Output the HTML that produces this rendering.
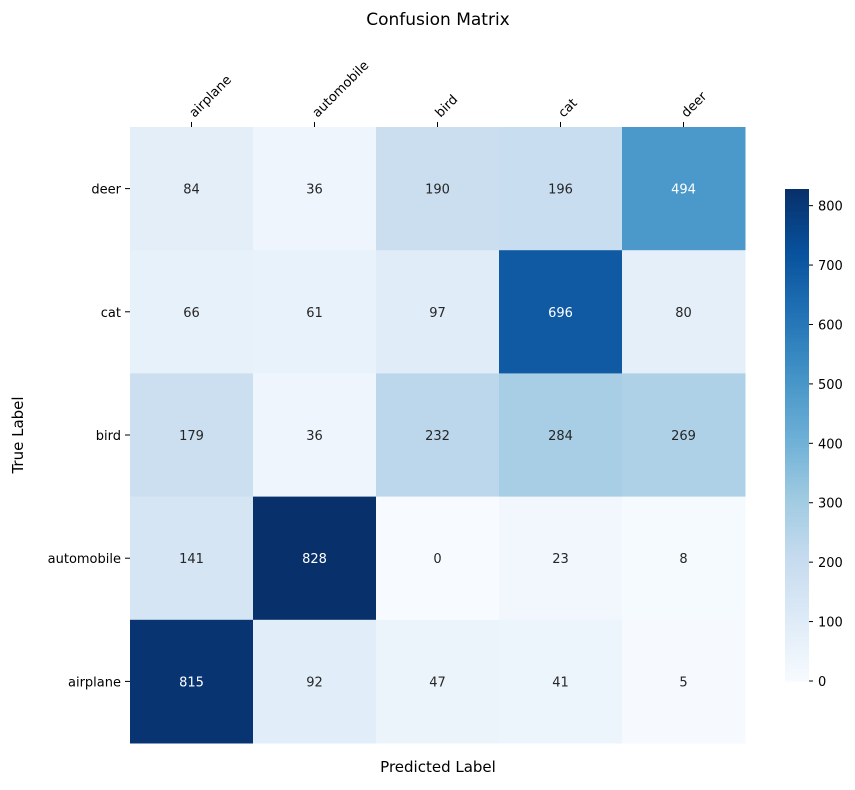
<!DOCTYPE html>
<html><head><meta charset="utf-8"><style>
body{margin:0;background:#fff;font-family:"Liberation Sans","DejaVu Sans",sans-serif}
</style></head><body>
<svg id="chart" width="855" height="785" xmlns="http://www.w3.org/2000/svg" font-family="'DejaVu Sans','Liberation Sans',sans-serif">
<defs><linearGradient id="cbg" x1="0" y1="1" x2="0" y2="0"></linearGradient></defs>
<text x="438" y="25" font-size="17" text-anchor="middle">Confusion Matrix</text>
<text x="438" y="772" font-size="15" text-anchor="middle">Predicted Label</text>
<text transform="translate(23,435) rotate(-90)" font-size="15" text-anchor="middle">True Label</text>
<g id="cells"></g><g id="axes"></g><g id="cbar"></g>
</svg>
<script>
const predLabels=["airplane","automobile","bird","cat","deer"];
const trueLabels=["deer","cat","bird","automobile","airplane"];
const row0=[84,36,190,196,494];
const row1=[66,61,97,696,80];
const row2=[179,36,232,284,269];
const row3=[141,828,0,23,8];
const row4=[815,92,47,41,5];
const matrix=[row0,row1,row2,row3,row4];
const cbTicks=[0,100,200,300,400,500,600,700,800];
const NS="http://www.w3.org/2000/svg";
const stops=["#f7fbff","#deebf7","#c6dbef","#9ecae1","#6baed6","#4292c6","#2171b5","#08519c","#08306b"];
function hex(h){return [1,3,5].map(i=>parseInt(h.substr(i,2),16));}
function cmap(t){t=Math.max(0,Math.min(1,t));const p=t*8,i=Math.min(7,Math.floor(p)),f=p-i;const a=hex(stops[i]),b=hex(stops[i+1]);return "rgb("+a.map((v,k)=>Math.round(v+(b[k]-v)*f)).join(",")+")";}
const vmin=0,vmax=Math.max(...matrix.flat());
const X0=130,X1=745,Y0=127,Y1=743;
const cw=(X1-X0)/predLabels.length,ch=(Y1-Y0)/trueLabels.length;
const xs=j=>X0+j*cw, ys=i=>Y0+i*ch;
function mk(tag,attrs,parent){const e=document.createElementNS(NS,tag);for(const k in attrs)e.setAttribute(k,attrs[k]);parent.appendChild(e);return e;}
const cells=document.getElementById('cells'),axes=document.getElementById('axes'),cb=document.getElementById('cbar');
matrix.forEach((row,i)=>row.forEach((v,j)=>{
 const t=(v-vmin)/(vmax-vmin);
 const r=mk('rect',{x:xs(j),y:ys(i),width:cw+0.5,height:ch+0.5,fill:cmap(t)},cells);
 
 
 const tx=mk('text',{x:xs(j)+cw/2,y:ys(i)+ch/2+5,'font-size':13,'text-anchor':'middle',fill:t>0.5?'#fff':'#262626'},cells);
 tx.textContent=v;
 
 
}));
predLabels.forEach((l,j)=>{
 const cx=xs(j)+cw/2;
 mk('line',{x1:cx,y1:Y0,x2:cx,y2:Y0-5,stroke:'#000'},axes);
 const t=mk('text',{transform:`translate(${cx+3},${Y0-9}) rotate(-45)`,'font-size':13},axes);
 t.textContent=l;
 
 
});
trueLabels.forEach((l,i)=>{
 const cy=ys(i)+ch/2;
 mk('line',{x1:X0,y1:cy,x2:X0-5,y2:cy,stroke:'#000'},axes);
 const t=mk('text',{x:X0-9,y:cy+5,'font-size':13,'text-anchor':'end'},axes);
 t.textContent=l;
 
 
});
// colorbar
const CB0=681,CB1=189,CBX=785,CBW=24;
const cy=v=>CB0-(v-vmin)/(vmax-vmin)*(CB0-CB1);
for(let k=0;k<200;k++){const v0=vmin+(vmax-vmin)*k/200,v1=vmin+(vmax-vmin)*(k+1)/200;
 mk('rect',{x:CBX,y:cy(v1),width:CBW,height:cy(v0)-cy(v1)+0.6,fill:cmap((v0+v1)/2/vmax)},cb);}
const cbr=mk('rect',{x:CBX,y:CB1,width:CBW,height:CB0-CB1,fill:'none'},cb);


cbTicks.forEach(v=>{
 mk('line',{x1:CBX+CBW,y1:cy(v),x2:CBX+CBW+4,y2:cy(v),stroke:'#000'},cb);
 const t=mk('text',{x:CBX+CBW+9,y:cy(v)+5,'font-size':13},cb);
 t.textContent=v;
 
 
});
</script>
</body></html>
